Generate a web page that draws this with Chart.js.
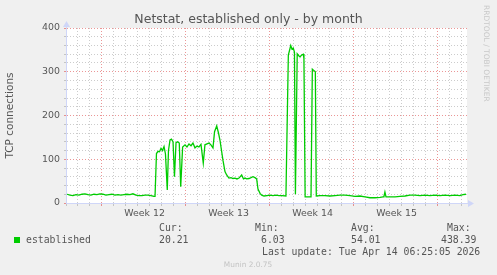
<!DOCTYPE html>
<html>
<head>
<meta charset="utf-8">
<title>Netstat, established only - by month</title>
<script src="https://cdn.jsdelivr.net/npm/chart.js@4.4.1/dist/chart.umd.min.js"></script>
<style>
  html, body { margin: 0; padding: 0; background: #f0f0f0; }
  canvas { display: block; }
</style>
</head>
<body>
<canvas id="netstat" width="497" height="275"></canvas>
<script>
// sample position in days since the left edge of the graph, and the value there
const dayPos = [
  0.08, 0.33, 0.58, 0.83, 1.08, 1.33, 1.58, 1.83, 2.08, 2.33, 2.58, 2.83, 3.08, 3.33, 3.58, 3.83,
  4.08, 4.33, 4.58, 4.83, 5.08, 5.33, 5.58, 5.83, 6.08, 6.33, 6.58, 6.83, 7.08, 7.33, 7.42,
  7.54, 7.67, 7.79, 7.92, 8.04, 8.17, 8.29, 8.44, 8.54, 8.67, 8.79, 8.92, 9.04, 9.17, 9.29, 9.44,
  9.56, 9.72, 9.92, 10.08, 10.25, 10.42, 10.58, 10.75, 10.92, 11.08, 11.25, 11.44, 11.58, 11.75,
  11.92, 12.08, 12.25, 12.38, 12.56, 12.71, 12.83, 12.96, 13.08, 13.25, 13.39, 13.58, 13.75, 13.92,
  14.08, 14.25, 14.42, 14.64, 14.79, 14.92, 15.06, 15.25, 15.42, 15.58, 15.75, 15.89, 16.0, 16.17,
  16.31, 16.5, 16.75, 17.0, 17.25, 17.5, 17.75, 18.0, 18.33,
  18.53, 18.73, 18.83, 18.94, 19.04, 19.12, 19.27, 19.42, 19.5, 19.64, 19.78, 19.83, 19.93,
  20.08, 20.25, 20.42, 20.53, 20.69, 20.78, 20.86,
  21.17, 21.58, 22.0, 22.42, 22.83, 23.25, 23.67, 24.08, 24.5, 24.92, 25.33, 25.75, 26.17, 26.42,
  26.5, 26.58, 26.67, 27.0, 27.42, 27.83, 28.25, 28.67, 29.08, 29.5, 29.92, 30.33, 30.75, 31.17,
  31.58, 32.0, 32.42, 32.83, 33.08, 33.33
];
const tcpConnections = [
  20, 18, 17, 19, 18, 20, 21, 19, 18, 20, 19, 21, 20, 18, 19, 20,
  18, 19, 18, 19, 20, 19, 21, 18, 17, 17, 18, 18, 17, 15, 15,
  113, 118, 117, 125, 120, 129, 112, 30, 120, 144, 146, 140, 60, 138, 140, 137,
  37, 128, 133, 128, 135, 131, 137, 126, 130, 128, 134, 91, 133, 135,
  137, 133, 126, 163, 176, 160, 144, 120, 98, 72, 64, 57, 58, 56,
  57, 55, 57, 64, 55, 57, 55, 56, 58, 60, 58, 55, 32, 22,
  18, 16, 17, 18, 17, 18, 17, 17, 16,
  338, 360, 352, 354, 345, 20, 341, 336, 334, 338, 340, 330, 14,
  14, 14, 14, 306, 302, 300, 16,
  17, 17, 16, 17, 18, 18, 17, 15, 16, 14, 12, 12, 13, 14,
  15, 25, 14, 14, 14, 15, 16, 18, 18, 17, 18, 17, 18, 17,
  18, 17, 18, 17, 19, 20
];

const weekNumbers = [12, 13, 14, 15];
const weekStartDays = [3, 10, 17, 24, 31];
const weekLabelDays = weekNumbers.map((w, i) => weekStartDays[i] + 3.55);
const yLabelTicks = [0, 100, 200, 300, 400];

const statLabels = ['Cur:', 'Min:', 'Avg:', 'Max:'];
const statValues = ['20.21', '6.03', '54.01', '438.39'];

const minorGrid = 'rgba(143,143,143,0.45)';
const majorGrid = 'rgba(222,80,80,0.6)';
const axisColor = '#cfd6f8';
const textColor = '#555';

Chart.defaults.font.family = '"DejaVu Sans", sans-serif';
Chart.defaults.color = textColor;

// munin/rrdtool decorations: white canvas, title, arrows, legend, watermarks
const muninFrame = {
  id: 'muninFrame',
  beforeDraw(chart) {
    const { ctx, chartArea: a } = chart;
    ctx.save();
    ctx.fillStyle = '#ffffff';
    ctx.fillRect(a.left, a.top, a.right - a.left, a.bottom - a.top);
    ctx.restore();
  },
  afterDraw(chart) {
    const { ctx, chartArea: a } = chart;
    ctx.save();

    ctx.fillStyle = textColor;
    ctx.font = '12.5px "DejaVu Sans"';
    ctx.textAlign = 'center';
    ctx.fillText('Netstat, established only - by month', 248.5, 23);

    // axis arrows
    ctx.fillStyle = axisColor;
    ctx.beginPath();
    ctx.moveTo(a.left - 3, a.top - 1);
    ctx.lineTo(a.left + 4, a.top - 1);
    ctx.lineTo(a.left + 0.5, a.top - 7);
    ctx.fill();
    ctx.fillRect(a.left, a.top - 2, 1, 3);
    ctx.beginPath();
    ctx.moveTo(a.right + 1, a.bottom - 3);
    ctx.lineTo(a.right + 1, a.bottom + 4);
    ctx.lineTo(a.right + 7, a.bottom + 0.5);
    ctx.fill();
    ctx.fillRect(a.right - 1, a.bottom, 3, 1);

    // legend
    ctx.textAlign = 'left';
    ctx.font = '9.8px "DejaVu Sans Mono"';
    ctx.fillStyle = '#00cc00';
    ctx.fillRect(14, 237, 6, 6);
    ctx.fillStyle = textColor;
    ctx.fillText('established', 26, 243);
    const labelX = [159, 255, 351, 447];
    const valueX = [159, 261, 351, 441];
    statLabels.forEach((s, i) => ctx.fillText(s, labelX[i], 231));
    statValues.forEach((s, i) => ctx.fillText(s, valueX[i], 243));
    ctx.fillText('Last update: Tue Apr 14 06:25:05 2026', 262, 255);

    ctx.fillStyle = '#c4c4c4';
    ctx.font = '7.4px "DejaVu Sans"';
    ctx.textAlign = 'center';
    ctx.fillText('Munin 2.0.75', 248, 267);

    ctx.translate(484, 5);
    ctx.rotate(Math.PI / 2);
    ctx.textAlign = 'left';
    ctx.font = '7.5px "DejaVu Sans"';
    ctx.fillStyle = '#c8c8c8';
    ctx.fillText('RRDTOOL / TOBI OETIKER', 0, 0);
    ctx.restore();
  }
};

new Chart(document.getElementById('netstat'), {
  type: 'line',
  data: {
    datasets: [{
      label: 'established',
      data: dayPos.map((d, i) => ({ x: d, y: tcpConnections[i] })),
      borderColor: '#00cc00',
      borderWidth: 1.3,
      pointRadius: 0,
      tension: 0,
      fill: false
    }]
  },
  options: {
    responsive: false,
    animation: false,
    events: [],
    layout: { padding: { top: 28, right: 30, left: 0, bottom: 0 } },
    plugins: { legend: { display: false }, title: { display: false }, tooltip: { enabled: false } },
    scales: {
      x: {
        type: 'linear',
        min: 0,
        max: 33.42,
        afterBuildTicks: (scale) => {
          const t = [];
          for (let d = 0; d <= 33; d++) t.push({ value: d });
          weekLabelDays.forEach(v => t.push({ value: v }));
          t.sort((p, q) => p.value - q.value);
          scale.ticks = t;
        },
        afterFit: (scale) => { scale.height = 72; },
        ticks: {
          autoSkip: false,
          maxRotation: 0,
          padding: 2,
          color: textColor,
          font: { size: 9.4 },
          callback: (v) => {
            const i = weekLabelDays.indexOf(v);
            return i >= 0 ? 'Week ' + weekNumbers[i] : '';
          }
        },
        grid: {
          tickLength: 3,
          lineWidth: 1,
          color: (ctx) => {
            const v = ctx.tick ? ctx.tick.value : -1;
            if (weekLabelDays.includes(v)) return 'rgba(0,0,0,0)';
            return weekStartDays.includes(v) ? majorGrid : minorGrid;
          }
        },
        border: { display: true, color: axisColor, width: 1, dash: [1, 2] }
      },
      y: {
        min: 0,
        max: 400,
        afterFit: (scale) => { scale.width = 66; },
        ticks: {
          stepSize: 20,
          autoSkip: false,
          padding: 4,
          color: textColor,
          font: { size: 9.4 },
          callback: (v) => yLabelTicks.includes(v) ? String(v) : ''
        },
        grid: {
          tickLength: 2,
          lineWidth: 1,
          color: (ctx) => {
            const v = ctx.tick ? ctx.tick.value : -1;
            return yLabelTicks.includes(v) ? majorGrid : minorGrid;
          }
        },
        border: { display: true, color: axisColor, width: 1, dash: [1, 2] },
        title: {
          display: true,
          text: 'TCP connections',
          color: textColor,
          font: { size: 10.5 },
          padding: { top: 4, bottom: 0 }
        }
      }
    }
  },
  plugins: [muninFrame]
});
</script>
</body>
</html>
